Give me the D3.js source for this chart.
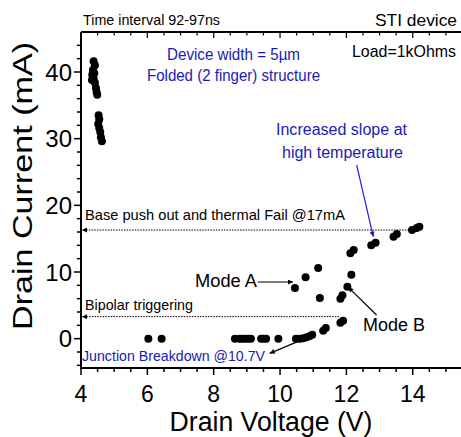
<!DOCTYPE html>
<html><head><meta charset="utf-8">
<script src="https://cdn.jsdelivr.net/npm/d3@7"></script>
<style>body{margin:0;background:#fff}svg{display:block}text{font-family:"Liberation Sans",Arial,sans-serif}</style>
</head><body><svg id="c" width="461" height="437"></svg>
<script>
// ---- data (Drain Voltage V, Drain Current mA) ----
const volts = [4.38,4.42,4.36,4.34,4.38,4.42,4.45,4.47,4.49,4.33,4.40,
  4.53,4.55,4.55,4.58,4.60,4.63,4.52,
  6.03,6.43,
  8.64,8.78,8.86,8.94,9.04,9.12,9.43,9.50,9.58,9.95,
  10.48,10.60,10.70,10.80,10.90,10.97,11.30,11.38,11.82,11.90,
  11.20,11.82,11.88,12.03,12.15,12.12,12.22,12.75,12.88,13.42,13.52,13.98,14.12,14.20,
  10.45,10.77,11.15];
const currents = [41.6,41.0,40.3,39.6,39.0,38.4,37.6,37.0,36.6,38.8,39.8,
  33.5,32.9,31.6,31.0,30.2,29.6,32.2,
  0,0,
  0,0,0,0,0,0,0,0,0,0,
  0,0,0.05,0.2,0.4,0.6,1.2,1.6,2.4,2.7,
  6.1,6.0,6.5,7.8,9.6,12.8,13.3,14.0,14.4,15.3,15.7,16.3,16.6,16.8,
  7.6,9.2,10.6];
const xTicks = [4,6,8,10,12,14];
const yTicks = [0,10,20,30,40];
// annotation anchors in data units
const failLevel = 16.3, failFrom = 14.05;
const trigLevel = 3.3, trigFrom = 11.78;
const modeAArrow = [[9.33,8.5],[10.39,8.5]];
const modeBArrow = [[12.91,3.55],[12.06,7.7]];
const junctionArrow = [[10.69,-0.1],[9.69,-2.2]];
const slopeArrow = [[12.31,26.05],[12.81,15.3]];

const svg = d3.select("#c");
const x = d3.scaleLinear().domain([4,15.5]).range([81,462.5]);
const y = d3.scaleLinear().domain([-4.4,46]).range([368,32]);
const X0 = x(4), YB = y(-4.4), YT = y(46);

const defs = svg.append("defs");
function marker(id,color){
  defs.append("marker").attr("id",id).attr("viewBox","0 0 10 10").attr("refX",10).attr("refY",5)
    .attr("markerWidth",7).attr("markerHeight",5).attr("orient","auto").attr("markerUnits","userSpaceOnUse")
    .append("path").attr("d","M0,0L10,5L0,10z").attr("fill",color);
}
marker("ab","#000"); marker("abl","#1a1ab4");

// axes
const minorX = d3.range(4,15.51,0.5);
const minorY = d3.range(-4,46,2);
const g = svg.append("g");
g.append("line").attr("x1",X0).attr("x2",461).attr("y1",YB).attr("y2",YB).attr("stroke","#000").attr("stroke-width",2);
g.selectAll(".bt").data(minorX).join("line").attr("x1",d=>x(d)).attr("x2",d=>x(d))
  .attr("y1",YB).attr("y2",d=>YB+(xTicks.includes(d)?7:4)).attr("stroke","#000").attr("stroke-width",1.5);
g.append("line").attr("x1",X0).attr("x2",461).attr("y1",YT).attr("y2",YT).attr("stroke","#000").attr("stroke-width",2);
g.selectAll(".tt").data(minorX).join("line").attr("x1",d=>x(d)).attr("x2",d=>x(d))
  .attr("y1",YT).attr("y2",d=>YT+(xTicks.includes(d)?6:3.5)).attr("stroke","#000").attr("stroke-width",1.2);
g.append("line").attr("x1",X0).attr("x2",X0).attr("y1",YT).attr("y2",YB+1).attr("stroke","#000").attr("stroke-width",2);
g.selectAll(".lt").data(minorY).join("line").attr("y1",d=>y(d)).attr("y2",d=>y(d))
  .attr("x1",X0).attr("x2",d=>X0-(yTicks.includes(d)?7:4)).attr("stroke","#000").attr("stroke-width",1.5);
g.selectAll(".xl").data(xTicks).join("text").attr("x",d=>x(d)).attr("y",402).attr("text-anchor","middle")
  .attr("font-size",23).text(d=>d);
g.selectAll(".yl").data(yTicks).join("text").attr("x",72).attr("y",d=>y(d)+8.5).attr("text-anchor","end")
  .attr("font-size",24).text(d=>d);

// axis titles
svg.append("text").attr("x",271).attr("y",431).attr("text-anchor","middle").attr("font-size",27)
  .attr("textLength",203).attr("lengthAdjust","spacingAndGlyphs").text("Drain Voltage (V)");
svg.append("text").attr("transform","translate(32,186) rotate(-90)").attr("text-anchor","middle").attr("font-size",28)
  .attr("textLength",288).attr("lengthAdjust","spacingAndGlyphs").text("Drain Current (mA)");

function txt(s,xx,yy,size,w,color){
  svg.append("text").attr("x",xx).attr("y",yy).attr("font-size",size).attr("fill",color||"#000")
   .attr("textLength",w).attr("lengthAdjust","spacingAndGlyphs").text(s);
}
const blue = "#1a1ab4";
txt("Time interval 92-97ns",83,25,15,137);
txt("STI device",375,26,17,82);
txt("Load=1kOhms",352,56.5,16,104);
txt("Device width = 5\u00b5m",167,60,16,133,blue);
txt("Folded (2 finger) structure",147,81,16,173,blue);
txt("Increased slope at",276,135,16,131,blue);
txt("high temperature",282,158,16,121,blue);
txt("Base push out and thermal Fail @17mA",85,220,15,260);
txt("Bipolar triggering",85,310,15,108);
txt("Mode A",195,287,18,62);
txt("Mode B",363,331,18,62);
txt("Junction Breakdown @10.7V",82,360.5,14.5,183,blue);

svg.append("line").attr("x1",x(failFrom)).attr("x2",X0+1).attr("y1",y(failLevel)).attr("y2",y(failLevel))
  .attr("stroke","#000").attr("stroke-width",1).attr("stroke-dasharray","1.5,1.2").attr("marker-end","url(#ab)");
svg.append("line").attr("x1",x(trigFrom)).attr("x2",X0+1).attr("y1",y(trigLevel)).attr("y2",y(trigLevel))
  .attr("stroke","#000").attr("stroke-width",1).attr("stroke-dasharray","1.5,1.2").attr("marker-end","url(#ab)");
function arrow(p,color,m){
  svg.append("line").attr("x1",x(p[0][0])).attr("y1",y(p[0][1])).attr("x2",x(p[1][0])).attr("y2",y(p[1][1]))
    .attr("stroke",color).attr("stroke-width",1.2).attr("marker-end",`url(#${m})`);
}
arrow(modeAArrow,"#000","ab");
arrow(modeBArrow,"#000","ab");
arrow(junctionArrow,"#000","ab");
arrow(slopeArrow,"#2020e0","abl");

svg.append("g").selectAll("circle").data(volts.map((v,i)=>[v,currents[i]])).join("circle")
  .attr("cx",d=>x(d[0])).attr("cy",d=>y(d[1])).attr("r",4).attr("fill","#000");
</script></body></html>
